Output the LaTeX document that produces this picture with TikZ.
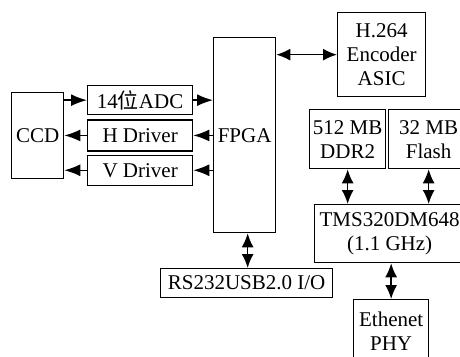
\documentclass[tikz,border=0pt]{standalone}
\usepackage{fontspec}
\setmainfont{Liberation Serif}
\newfontfamily\cjk{Noto Sans CJK SC}
\usetikzlibrary{positioning,arrows.meta}

\begin{document}
\begin{tikzpicture}[x=1pt,y=-1pt,node distance=4pt,
    blk/.style={rectangle,draw,line width=1.3pt,anchor=north west,
                inner sep=1pt,align=center,font=\fontsize{21}{24}\selectfont},
    link/.style={line width=1.5pt,-{Latex[length=16pt,width=12pt]}},
    dlink/.style={line width=1.5pt,{Latex[length=14pt,width=12pt]}-{Latex[length=14pt,width=12pt]}}]
    \clip (0,0) rectangle (460,356);

    \node[blk,minimum width=52pt,minimum height=86pt] (ccd) at (11,92) {CCD};
    \node[blk,minimum width=105pt,minimum height=29pt] (adc) at (87,85) {14{\cjk 位}ADC};
    \node[blk,minimum width=105pt,minimum height=31pt,below=4pt of adc] (hdrv) {H Driver};
    \node[blk,minimum width=105pt,minimum height=30pt,below=3pt of hdrv] (vdrv) {V Driver};
    \node[blk,minimum width=62pt,minimum height=195pt] (fpga) at (213,37) {FPGA};
    \node[blk,minimum width=88pt,minimum height=84pt] (h264) at (337,12) {H.264\\Encoder\\ASIC};
    \node[blk,minimum width=76pt,minimum height=59pt] (ddr) at (309,109) {512 MB\\DDR2};
    \node[blk,minimum width=80pt,minimum height=59pt] (flash) at (388,109) {32 MB\\Flash};
    \node[blk,minimum width=150pt,minimum height=58pt] (tms) at (314,204) {TMS320DM648\\(1.1 GHz)};
    \node[blk,minimum width=75pt,minimum height=64pt] (eth) at (353,299) {Ethenet\\PHY};
    \node[blk,minimum width=172pt,minimum height=29pt] (rs) at (160,268) {RS232USB2.0 I/O};

    \draw[link] (ccd.east |- adc.west) -- (adc.west);
    \draw[link] (adc.east) -- (adc.east -| fpga.west);
    \draw[link] (hdrv.east -| fpga.west) -- (hdrv.east);
    \draw[link] (hdrv.west) -- (hdrv.west -| ccd.east);
    \draw[link] (vdrv.east -| fpga.west) -- (vdrv.east);
    \draw[link] (vdrv.west) -- (vdrv.west -| ccd.east);
    \draw[dlink] (fpga.east |- h264.west) -- (h264.west);
    \draw[dlink] ([xshift=3pt]fpga.south) -- ([xshift=3pt]fpga.south |- rs.north);
    \draw[dlink] (ddr.south) -- (ddr.south |- tms.north);
    \draw[dlink] (flash.south) -- (flash.south |- tms.north);
    \draw[dlink] (tms.south -| eth.north) -- (eth.north);
\end{tikzpicture}
\end{document}
